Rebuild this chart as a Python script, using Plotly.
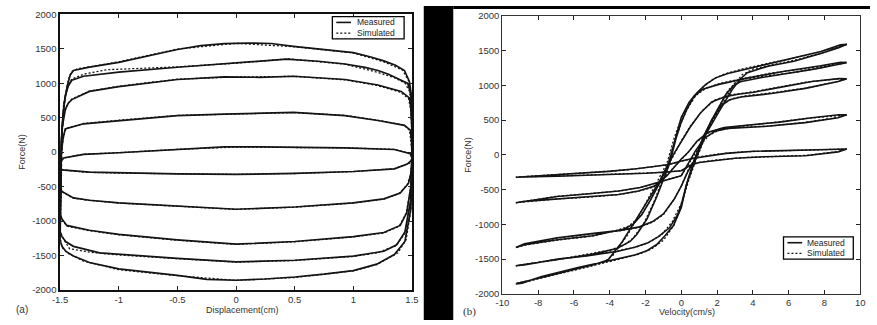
import plotly.graph_objects as go

W, H = 877, 325


def px(x):
    return x / W


def py(y):
    return 1 - y / H


# ---------------- Tick labels ----------------
disp_tick_vals = [-1.5, -1, -0.5, 0, 0.5, 1, 1.5]
disp_tick_text = ["-1.5", "-1", "-0.5", "0", "0.5", "1", "1.5"]
vel_tick_vals = [-10, -8, -6, -4, -2, 0, 2, 4, 6, 8, 10]
vel_tick_text = ["-10", "-8", "-6", "-4", "-2", "0", "2", "4", "6", "8", "10"]
force_tick_vals = [-2000, -1500, -1000, -500, 0, 500, 1000, 1500, 2000]
force_tick_text = ["-2000", "-1500", "-1000", "-500", "0", "500", "1000", "1500", "2000"]

legend_labels = ["Measured", "Simulated"]

# ---------------- (a) Force vs displacement : measured ----------------
a1_x = [-1.5, -1.497, -1.49, -1.484, -1.464, -1.44, -1.414, -1.386, -1.25, -1.0, -0.75, -0.5, -0.3, -0.1, 0.1, 0.3,
        0.49, 0.75, 1.0, 1.15, 1.26, 1.36, 1.436, 1.478, 1.493, 1.5, 1.5, 1.49, 1.44, 1.35, 1.2, 1.0, 0.75, 0.5, 0.25,
        0.0, -0.25, -0.5, -0.75, -1.0, -1.25, -1.386, -1.45, -1.484, -1.497, -1.5]
a1_f = [-1250, -700, -84, 337, 716, 950, 1119, 1184, 1232, 1301, 1395, 1488, 1545, 1572, 1582, 1575,
        1535, 1490, 1442, 1380, 1324, 1260, 1184, 1024, 850, 400, -300, -828, -1296, -1484, -1624, -1718, -1770, -1811,
        -1840, -1858, -1845, -1788, -1745, -1694, -1600, -1507, -1440, -1366, -1300, -1250]

a2_x = [-1.5, -1.497, -1.49, -1.475, -1.456, -1.43, -1.40, -1.3, -1.0, -0.5, -0.1, 0.2, 0.43, 0.7, 0.93, 1.1, 1.21,
        1.3, 1.378, 1.464, 1.49, 1.5, 1.5, 1.49, 1.44, 1.37, 1.26, 1.0, 0.5, 0.0, -0.5, -1.0, -1.163, -1.386, -1.45,
        -1.484, -1.5]
a2_f = [-1150, -600, 100, 550, 814, 960, 1043, 1100, 1161, 1231, 1278, 1320, 1348, 1318, 1278, 1230, 1184,
        1130, 1067, 997, 850, 450, -250, -688, -1156, -1343, -1437, -1507, -1568, -1591, -1540, -1484, -1460, -1366,
        -1300, -1226, -1150]

a3_x = [-1.5, -1.497, -1.49, -1.484, -1.456, -1.43, -1.40, -1.25, -1.0, -0.5, -0.1, 0.2, 0.49, 0.93, 1.21, 1.408,
        1.478, 1.493, 1.5, 1.5, 1.49, 1.456, 1.40, 1.26, 1.0, 0.5, 0.0, -0.5, -1.0, -1.25, -1.443, -1.484, -1.5]
a3_f = [-900, -450, 100, 337, 618, 710, 762, 880, 950, 1053, 1091, 1085, 1100, 1053, 973, 880,
        786, 600, 250, -150, -501, -875, -1063, -1165, -1226, -1296, -1334, -1273, -1193, -1133, -1063, -969, -900]

a4_x = [-1.5, -1.496, -1.49, -1.475, -1.456, -1.3, -1.0, -0.5, -0.1, 0.2, 0.49, 0.93, 1.21, 1.436, 1.486, 1.497,
        1.5, 1.5, 1.49, 1.47, 1.40, 1.26, 1.0, 0.5, 0.0, -0.5, -1.0, -1.25, -1.386, -1.484, -1.5]
a4_f = [-500, -250, -14, 197, 337, 411, 459, 529, 552, 562, 576, 529, 459, 389, 319, 150,
        0, -100, -314, -454, -594, -678, -735, -796, -828, -782, -735, -698, -664, -571, -500]

a5_x = [-1.5, -1.49, -1.47, -1.3, -1.0, -0.5, -0.1, 0.2, 0.49, 0.93, 1.35, 1.486, 1.5, 1.5, 1.49, 1.46, 1.35, 1.0,
        0.5, 0.0, -0.5, -1.0, -1.25, -1.484, -1.5]
a5_f = [-230, -126, -84, -33, -9, 38, 75, 75, 70, 61, 38, -23, -80, -100, -126, -173, -243, -281,
        -309, -323, -314, -304, -290, -257, -230]

# ---------------- (a) simulated ----------------
a1s_x = [-1.5, -1.49, -1.48, -1.46, -1.43, -1.40, -1.35, -1.2, -1.0, -0.5, 0.0, 0.5, 1.0, 1.26, 1.42, 1.47, 1.49,
         1.5, 1.5, 1.49, 1.45, 1.38, 1.2, 1.0, 0.5, 0.0, -0.5, -1.0, -1.3, -1.43, -1.48, -1.5]
a1s_f = [-1250, -100, 400, 760, 1050, 1170, 1210, 1250, 1310, 1495, 1578, 1528, 1438, 1310, 1190, 1040, 800,
         300, -350, -850, -1270, -1460, -1630, -1722, -1818, -1860, -1792, -1705, -1580, -1470, -1390, -1250]

a2s_x = [-1.5, -1.49, -1.47, -1.44, -1.40, -1.3, -1.1, -0.8, -0.5, 0.0, 0.45, 0.93, 1.2, 1.35, 1.44, 1.48, 1.5, 1.5,
         1.49, 1.44, 1.36, 1.2, 1.0, 0.5, 0.0, -0.5, -1.0, -1.25, -1.42, -1.47, -1.5]
a2s_f = [-1150, 150, 700, 950, 1060, 1130, 1195, 1220, 1236, 1290, 1352, 1275, 1160, 1080, 1000, 880, 400, -250,
         -700, -1180, -1360, -1460, -1512, -1572, -1595, -1545, -1492, -1450, -1400, -1260, -1150]

a3s_x = [-1.5, -1.49, -1.47, -1.44, -1.40, -1.25, -1.0, -0.5, 0.0, 0.5, 0.93, 1.2, 1.4, 1.47, 1.49, 1.5, 1.5, 1.49,
         1.45, 1.39, 1.26, 1.0, 0.5, 0.0, -0.5, -1.0, -1.25, -1.44, -1.48, -1.5]
a3s_f = [-900, 150, 520, 690, 770, 885, 955, 1058, 1090, 1098, 1048, 968, 870, 780, 620, 250, -150, -520,
         -890, -1075, -1172, -1230, -1300, -1338, -1278, -1198, -1140, -1075, -990, -900]

a4s_x = [-1.5, -1.49, -1.47, -1.45, -1.3, -1.0, -0.5, 0.0, 0.5, 0.93, 1.21, 1.43, 1.48, 1.5, 1.5, 1.49, 1.46, 1.39,
         1.26, 1.0, 0.5, 0.0, -0.5, -1.0, -1.25, -1.39, -1.48, -1.5]
a4s_f = [-500, 0, 230, 345, 415, 463, 532, 556, 574, 532, 462, 392, 320, 0, -100, -320, -470, -600,
         -682, -738, -798, -830, -785, -738, -700, -668, -580, -500]

a5s_x = [-1.5, -1.49, -1.46, -1.3, -1.0, -0.5, 0.0, 0.5, 0.93, 1.35, 1.48, 1.5, 1.5, 1.48, 1.35, 1.0, 0.5, 0.0, -0.5,
         -1.0, -1.3, -1.48, -1.5]
a5s_f = [-230, -120, -80, -30, -8, 40, 74, 70, 62, 40, -20, -80, -100, -160, -240, -282, -310, -322, -315,
         -305, -290, -255, -230]

# ---------------- (b) Force vs velocity : measured ----------------
b1_v = [0.0, 0.27, 0.71, 1.37, 2.1, 2.85, 3.3, 3.7, 4.85, 6.3, 7.8, 8.8, 9.25, 8.9, 7.8, 5.77, 3.74, 2.6, 1.92, 1.37,
        0.9, 0.44, 0.0, -0.27, -0.71, -1.3, -1.92, -2.6, -3.3, -4.1, -4.9, -6.0, -7.3, -8.5, -9.25, -8.9, -7.8, -5.77,
        -3.74, -2.6, -1.92, -1.37, -0.9, -0.44, 0.0]
b1_f = [-760, -450, -126, 294, 616, 938, 1090, 1180, 1274, 1344, 1456, 1540, 1590, 1580, 1485, 1362, 1246, 1170, 1106,
        1012, 900, 756, 540, 294, -126, -420, -686, -960, -1250, -1512, -1580, -1650, -1740, -1810, -1855, -1845,
        -1750, -1622, -1506, -1440, -1380, -1290, -1160, -1016, -760]

b2_v = [0.0, 0.3, 0.65, 1.25, 1.9, 2.5, 2.9, 3.3, 4.5, 6.0, 7.5, 8.6, 9.25, 8.9, 7.8, 5.77, 3.74, 2.1, 1.2, 0.7, 0.3,
        0.0, -0.3, -0.65, -1.37, -1.92, -2.5, -2.86, -3.6, -5.0, -6.9, -8.8, -9.25, -8.8, -6.9, -5.2, -3.6, -2.6, -1.9,
        -1.3, -0.66, -0.2, 0.0]
b2_f = [-720, -420, -126, 270, 590, 870, 990, 1050, 1110, 1170, 1235, 1290, 1325, 1330, 1280, 1200, 1106, 1012, 942,
        840, 650, 470, 230, -126, -602, -924, -1150, -1246, -1348, -1432, -1502, -1572, -1596, -1585, -1500, -1450,
        -1390, -1330, -1270, -1180, -1050, -860, -720]

b3_v = [0.0, 0.35, 0.7, 1.2, 1.7, 2.2, 2.7, 3.34, 5.14, 6.93, 8.77, 9.25, 8.81, 8.23, 7.3, 5.5, 4.05, 3.17, 2.4, 1.7,
        1.07, 0.5, 0.0, -0.4, -0.7, -1.2, -1.7, -2.2, -2.7, -3.2, -4.95, -6.93, -8.77, -9.25, -8.77, -6.93, -5.14,
        -3.5, -2.4, -1.6, -1.0, -0.4, 0.0]
b3_f = [-450, -250, -100, 230, 500, 700, 790, 830, 884, 955, 1053, 1092, 1095, 1080, 1053, 969, 900, 870, 830, 760,
        600, 400, 200, 20, -126, -400, -640, -860, -1000, -1067, -1165, -1221, -1292, -1332, -1278, -1193, -1137,
        -1090, -1040, -960, -850, -640, -450]

b4_v = [0.0, 0.4, 0.8, 1.3, 1.9, 2.6, 4.64, 6.93, 8.77, 9.25, 8.81, 7.3, 5.5, 3.5, 2.4, 1.5, 0.9, 0.4, 0.0, -0.4,
        -0.8, -1.5, -2.4, -3.5, -5.0, -6.93, -8.77, -9.25, -8.77, -6.93, -5.14, -3.5, -2.3, -1.3, -0.6, 0.0]
b4_f = [-300, -130, 60, 240, 340, 380, 407, 463, 533, 574, 576, 533, 470, 420, 390, 323, 200, 40, -60, -180,
        -300, -450, -520, -570, -600, -630, -670, -690, -670, -600, -560, -520, -470, -400, -340, -300]

b5_v = [0.0, 0.5, 1.0, 1.85, 3.0, 4.64, 6.93, 8.77, 9.25, 8.81, 7.3, 5.5, 4.05, 2.5, 1.5, 0.7, 0.0, -0.7, -1.51,
        -2.5, -4.05, -5.5, -6.93, -8.77, -9.25, -8.77, -6.93, -5.14, -3.5, -2.0, -1.0, 0.0]
b5_f = [-230, -150, -110, -84, -50, -28, -14, 42, 84, 80, 70, 60, 50, 20, -14, -50, -90, -140, -168,
        -200, -239, -262, -281, -309, -322, -318, -309, -295, -282, -265, -250, -230]

# ---------------- (b) simulated ----------------
b1s_v = [0.0, 0.4, 0.8, 1.5, 2.2, 2.9, 3.4, 4.0, 5.0, 6.5, 8.0, 9.25, 8.5, 7.0, 5.0, 3.5, 2.4, 1.8, 1.2, 0.6, 0.0,
         -0.4, -0.8, -1.5, -2.2, -3.0, -3.8, -4.3, -5.5, -7.0, -8.5, -9.25, -8.5, -7.0, -5.0, -3.5, -2.4, -1.7, -1.0,
         -0.4, 0.0]
b1s_f = [-720, -380, -90, 360, 690, 1000, 1150, 1230, 1290, 1370, 1475, 1585, 1530, 1430, 1320, 1240, 1160, 1090,
         970, 790, 520, 240, -120, -470, -800, -1150, -1440, -1540, -1610, -1720, -1815, -1850, -1810, -1720, -1600,
         -1500, -1430, -1360, -1230, -1010, -720]

b2s_v = [0.0, 0.4, 0.8, 1.4, 2.0, 2.6, 3.0, 3.5, 5.0, 6.5, 8.0, 9.25, 8.5, 7.0, 5.0, 3.5, 2.2, 1.4, 0.8, 0.3, 0.0,
         -0.4, -0.8, -1.5, -2.1, -2.7, -3.2, -4.0, -5.5, -7.0, -8.5, -9.25, -8.5, -7.0, -5.0, -3.5, -2.5, -1.8, -1.1,
         -0.5, 0.0]
b2s_f = [-700, -340, -60, 330, 640, 920, 1030, 1090, 1140, 1190, 1260, 1330, 1300, 1240, 1175, 1100, 1030, 960, 850,
         640, 460, 180, -180, -660, -990, -1200, -1300, -1370, -1445, -1510, -1565, -1596, -1570, -1505, -1440,
         -1380, -1325, -1260, -1150, -960, -700]

b3s_v = [0.0, 0.4, 0.8, 1.3, 1.8, 2.3, 2.9, 3.5, 5.0, 7.0, 8.8, 9.25, 8.5, 7.0, 5.5, 4.0, 2.8, 1.9, 1.2, 0.5, 0.0,
         -0.4, -0.8, -1.3, -1.8, -2.3, -2.9, -3.5, -5.0, -7.0, -8.8, -9.25, -8.5, -7.0, -5.0, -3.5, -2.4, -1.6, -1.0,
         -0.4, 0.0]
b3s_f = [-450, -210, -40, 290, 540, 730, 810, 845, 890, 960, 1058, 1092, 1085, 1045, 975, 905, 865, 790, 640, 410,
         200, 0, -170, -440, -690, -880, -1020, -1080, -1170, -1230, -1300, -1332, -1290, -1200, -1140, -1095, -1045,
         -970, -860, -640, -450]

b4s_v = [0.0, 0.5, 1.0, 1.5, 2.1, 3.0, 5.0, 7.0, 8.8, 9.25, 8.5, 7.0, 5.0, 3.3, 2.2, 1.4, 0.8, 0.3, 0.0, -0.5, -1.0,
         -1.6, -2.5, -3.6, -5.0, -7.0, -8.8, -9.25, -8.5, -7.0, -5.0, -3.3, -2.2, -1.2, -0.5, 0.0]
b4s_f = [-300, -90, 110, 270, 355, 390, 415, 468, 540, 574, 560, 522, 460, 415, 380, 300, 170, 10, -70, -210, -340,
         -470, -530, -575, -605, -635, -675, -690, -660, -598, -555, -515, -465, -395, -335, -300]

b5s_v = [0.0, 0.6, 1.2, 2.0, 3.5, 5.0, 7.0, 8.8, 9.25, 8.5, 7.0, 5.0, 3.5, 2.0, 1.0, 0.0, -0.8, -1.7, -3.0, -4.5,
         -6.0, -7.5, -9.25, -8.5, -7.0, -5.0, -3.0, -1.5, 0.0]
b5s_f = [-230, -140, -100, -75, -40, -22, -8, 48, 84, 78, 68, 56, 44, 10, -30, -95, -145, -175, -215, -245,
         -268, -292, -322, -314, -306, -292, -275, -258, -230]

# ---------------- figure ----------------
INK = "#141414"
FONT = "Liberation Sans, Arial, Helvetica, sans-serif"

meas_a = [(a1_x, a1_f), (a2_x, a2_f), (a3_x, a3_f), (a4_x, a4_f), (a5_x, a5_f)]
sim_a = [(a1s_x, a1s_f), (a2s_x, a2s_f), (a3s_x, a3s_f), (a4s_x, a4s_f), (a5s_x, a5s_f)]
meas_b = [(b1_v, b1_f), (b2_v, b2_f), (b3_v, b3_f), (b4_v, b4_f), (b5_v, b5_f)]
sim_b = [(b1s_v, b1s_f), (b2s_v, b2s_f), (b3s_v, b3s_f), (b4s_v, b4s_f), (b5s_v, b5s_f)]

fig = go.Figure()
for (xs, fs) in meas_a:
    fig.add_trace(go.Scatter(x=xs, y=fs, mode="lines", line=dict(color=INK, width=1.7),
                             xaxis="x", yaxis="y", showlegend=False, hoverinfo="skip"))
for (xs, fs) in sim_a:
    fig.add_trace(go.Scatter(x=xs, y=fs, mode="lines", line=dict(color=INK, width=1.3, dash="2px,2px"),
                             xaxis="x", yaxis="y", showlegend=False, hoverinfo="skip"))
for (xs, fs) in meas_b:
    fig.add_trace(go.Scatter(x=xs, y=fs, mode="lines", line=dict(color=INK, width=1.6),
                             xaxis="x2", yaxis="y2", showlegend=False, hoverinfo="skip"))
for (xs, fs) in sim_b:
    fig.add_trace(go.Scatter(x=xs, y=fs, mode="lines", line=dict(color=INK, width=1.3, dash="2px,2px"),
                             xaxis="x2", yaxis="y2", showlegend=False, hoverinfo="skip"))

common = dict(showgrid=False, zeroline=False, ticks="inside", ticklen=4, mirror="ticks", showline=True,
              tickfont=dict(family=FONT, size=9.5, color="#333333"), tickcolor="#222222")

fig.update_layout(
    width=W, height=H, margin=dict(l=0, r=0, t=0, b=0),
    paper_bgcolor="white", plot_bgcolor="white",
    xaxis=dict(domain=[px(53), px(411)], range=[-1.5, 1.5], tickvals=disp_tick_vals, ticktext=disp_tick_text,
               linecolor="#111111", linewidth=1.5, anchor="y", **common),
    yaxis=dict(domain=[py(294), py(8.5)], range=[-2000, 2000], tickvals=force_tick_vals, ticktext=force_tick_text,
               linecolor="#111111", linewidth=1.5, anchor="x", **common),
    xaxis2=dict(domain=[px(503), px(867)], range=[-10, 10], tickvals=vel_tick_vals, ticktext=vel_tick_text,
                linecolor="#333333", linewidth=1.2, anchor="y2", **common),
    yaxis2=dict(domain=[py(298), py(10)], range=[-2000, 2000], tickvals=force_tick_vals, ticktext=force_tick_text,
                linecolor="#333333", linewidth=1.2, anchor="x2", **common),
)

shapes = [
    # black separator band and top strip of the right panel
    dict(type="rect", xref="paper", yref="paper", x0=px(423), x1=px(453), y0=0, y1=1,
         fillcolor="black", line=dict(width=0), layer="above"),
    dict(type="rect", xref="paper", yref="paper", x0=px(453), x1=1, y0=py(3), y1=1,
         fillcolor="black", line=dict(width=0), layer="above"),
]

annotations = []


def add_legend(x0, y0, x1, y1, sx0, sx1, tx, ry1, ry2):
    shapes.append(dict(type="rect", xref="paper", yref="paper", x0=px(x0), x1=px(x1), y0=py(y1), y1=py(y0),
                       fillcolor="white", line=dict(color="black", width=1.3), layer="above"))
    shapes.append(dict(type="line", xref="paper", yref="paper", x0=px(sx0), x1=px(sx1), y0=py(ry1), y1=py(ry1),
                       line=dict(color=INK, width=1.6), layer="above"))
    shapes.append(dict(type="line", xref="paper", yref="paper", x0=px(sx0), x1=px(sx1), y0=py(ry2), y1=py(ry2),
                       line=dict(color=INK, width=1.3, dash="2px,2px"), layer="above"))
    for lab, ry in zip(legend_labels, [ry1, ry2]):
        annotations.append(dict(text=lab, xref="paper", yref="paper", x=px(tx), y=py(ry), xanchor="left",
                                yanchor="middle", showarrow=False, font=dict(family=FONT, size=8.5, color="#222")))


add_legend(330, 11, 403, 34, 334, 349, 353, 17, 28)
add_legend(789, 239, 860, 262, 793, 808, 811, 245, 256)


def add_text(t, x, y, size=9.5, angle=0, family=FONT):
    annotations.append(dict(text=t, xref="paper", yref="paper", x=px(x), y=py(y), xanchor="center",
                            yanchor="middle", showarrow=False, textangle=angle,
                            font=dict(family=family, size=size, color="#333333")))


add_text("Force(N)", 14, 151, size=9, angle=-90)
add_text("Force(N)", 468, 154, size=9, angle=-90)
add_text("Displacement(cm)", 239, 315, size=9)
add_text("Velocity(cm/s)", 691, 317, size=9)
add_text("(a)", 14, 314, size=10)
add_text("(b)", 470, 316, size=11, family="Liberation Serif, Times New Roman, serif")

fig.update_layout(shapes=shapes, annotations=annotations)

fig.write_html("out.html")
